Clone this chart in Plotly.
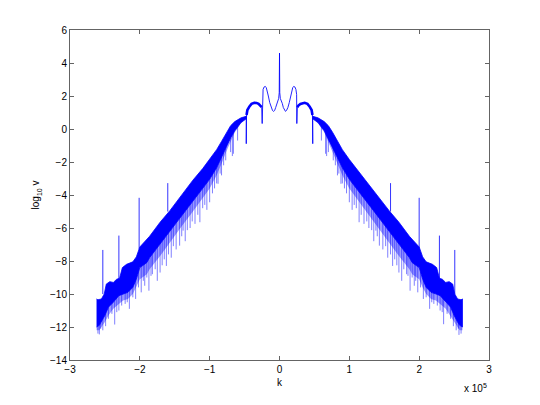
import numpy as np
import plotly.graph_objects as go

# k values are in units of 1e5 (axis shows "x 10^5")
K_SCALE = 1e5

# ---- dense band: upper / lower envelopes (left side) ----
upper_left_k = [-2.62, -2.60, -2.55, -2.51, -2.48, -2.43, -2.38, -2.33, -2.29, -2.25, -2.19, -2.10,
                -2.05, -2.02, -2.00, -1.86, -1.71, -1.57, -1.40, -1.24, -1.10, -1.00, -0.90, -0.83,
                -0.76, -0.70, -0.64, -0.55, -0.476]
upper_left_v = [-10.3, -10.35, -10.3, -10.0, -9.4, -9.25, -9.3, -9.1, -9.05, -8.4, -8.2, -8.05,
                -7.75, -7.4, -7.15, -6.5, -5.65, -4.95, -4.0, -3.1, -2.4, -1.85, -1.25, -0.75,
                -0.2, 0.2, 0.45, 0.68, 0.77]
lower_left_k = [-2.62, -2.58, -2.55, -2.50, -2.45, -2.38, -2.30, -2.24, -2.17, -2.10, -2.05, -2.00,
                -1.90, -1.86, -1.71, -1.57, -1.40, -1.24, -1.10, -1.00, -0.90, -0.83, -0.76, -0.70,
                -0.64, -0.55, -0.476]
lower_left_v = [-12.0, -11.9, -11.7, -11.3, -10.8, -10.5, -10.1, -10.0, -9.9, -9.6, -9.1, -8.4,
                -8.1, -7.8, -7.0, -6.2, -5.25, -4.35, -3.6, -3.05, -2.35, -1.75, -1.1, -0.55,
                -0.1, 0.4, 0.62]
# lower limit of the fuzzy (half-dense) zone under the solid band
fuzz_left_v = [-12.2, -12.2, -12.0, -11.7, -11.3, -10.9, -10.6, -10.4, -10.3, -10.0, -9.6, -9.1,
               -8.8, -8.5, -7.7, -6.9, -5.9, -5.0, -4.2, -3.6, -2.8, -2.1, -1.35, -0.75,
               -0.2, 0.35, 0.6]

# ---- dense band: right side ----
upper_right_k = [0.476, 0.55, 0.64, 0.70, 0.76, 0.83, 0.90, 1.00, 1.10, 1.24, 1.40, 1.57, 1.71,
                 1.86, 2.00, 2.02, 2.05, 2.10, 2.19, 2.25, 2.29, 2.33, 2.38, 2.43, 2.48, 2.51,
                 2.55, 2.60, 2.62]
upper_right_v = [0.77, 0.68, 0.45, 0.2, -0.2, -0.75, -1.25, -1.85, -2.4, -3.1, -4.0, -4.95, -5.65,
                 -6.5, -7.15, -7.4, -7.75, -8.05, -8.2, -8.4, -9.05, -9.1, -9.3, -9.25, -9.4, -10.0,
                 -10.3, -10.35, -10.3]
lower_right_k = [0.476, 0.55, 0.64, 0.70, 0.76, 0.83, 0.90, 1.00, 1.10, 1.24, 1.40, 1.57, 1.71,
                 1.86, 1.90, 2.00, 2.05, 2.10, 2.17, 2.24, 2.30, 2.38, 2.45, 2.50, 2.55, 2.58, 2.62]
lower_right_v = [0.62, 0.4, -0.1, -0.55, -1.1, -1.75, -2.35, -3.05, -3.6, -4.35, -5.25, -6.2, -7.0,
                 -7.8, -8.1, -8.4, -9.1, -9.6, -9.9, -10.0, -10.1, -10.5, -10.8, -11.3, -11.7,
                 -11.9, -12.0]
fuzz_right_v = [0.6, 0.35, -0.2, -0.75, -1.35, -2.1, -2.8, -3.6, -4.2, -5.0, -5.9, -6.9, -7.7,
                -8.5, -8.8, -9.1, -9.6, -10.0, -10.3, -10.4, -10.6, -10.9, -11.3, -11.7, -12.0,
                -12.2, -12.2]

# ---- downward streaks below the band: position and lowest value ----
dip_left_k = [-2.60, -2.58, -2.56, -2.53, -2.49, -2.45, -2.40, -2.36, -2.33, -2.30, -2.26, -2.21,
              -2.18, -2.15, -2.10, -2.06, -2.02, -1.98, -1.95, -1.93, -1.90, -1.87, -1.84, -1.82,
              -1.78, -1.75, -1.71, -1.68, -1.65, -1.62, -1.59, -1.55, -1.52, -1.48, -1.43, -1.40,
              -1.38, -1.35, -1.32, -1.28, -1.25, -1.21, -1.17, -1.14, -1.10, -1.07, -1.04, -1.00,
              -0.96, -0.93, -0.90, -0.88, -0.85, -0.83, -0.80, -0.77, -0.70, -0.675, -0.66, -0.60]
dip_left_bot = [-12.4, -12.45, -12.1, -12.2, -11.95, -11.5, -11.2, -11.85, -11.1, -11.0, -10.7, -10.6,
                -10.5, -10.9, -10.2, -10.3, -9.6, -9.9, -9.2, -9.5, -9.0, -9.8, -8.9, -8.8,
                -8.5, -9.2, -8.7, -8.26, -7.9, -8.3, -7.6, -7.8, -7.1, -7.3, -7.07, -6.5,
                -6.16, -6.8, -6.13, -6.0, -5.6, -5.75, -5.2, -5.65, -4.8, -4.6, -4.9, -4.44,
                -3.9, -3.6, -3.3, -3.32, -2.7, -2.81, -2.2, -1.9, -1.4, -1.64, -1.5, -0.7]
dip_right_k = [0.60, 0.66, 0.675, 0.70, 0.77, 0.80, 0.83, 0.85, 0.88, 0.90, 0.93, 0.96, 1.00,
               1.04, 1.07, 1.10, 1.14, 1.17, 1.21, 1.25, 1.28, 1.32, 1.35, 1.38, 1.40, 1.43, 1.48,
               1.52, 1.55, 1.59, 1.62, 1.65, 1.68, 1.71, 1.75, 1.78, 1.82, 1.84, 1.87, 1.90, 1.93,
               1.95, 1.98, 2.02, 2.06, 2.10, 2.15, 2.18, 2.21, 2.26, 2.30, 2.33, 2.35, 2.40, 2.45,
               2.49, 2.53, 2.56, 2.57, 2.60]
dip_right_bot = [-0.7, -1.5, -1.64, -1.4, -1.9, -2.2, -2.81, -2.7, -3.32, -3.3, -3.6, -3.9, -4.44,
                 -4.9, -4.6, -4.8, -5.65, -5.2, -5.75, -5.6, -6.0, -6.13, -6.8, -6.16, -6.5, -7.07,
                 -7.3, -7.1, -7.8, -7.6, -8.3, -7.9, -8.26, -8.7, -9.2, -8.5, -8.8, -8.9, -9.8, -9.0,
                 -9.5, -9.2, -9.9, -9.6, -10.3, -10.2, -10.9, -10.5, -10.6, -10.7, -11.0, -11.1,
                 -11.83, -11.2, -11.5, -11.95, -12.2, -12.1, -12.48, -12.4]

# ---- upward spikes (k, base, top) ----
spike_k = [-2.53, -2.30, -2.01, -1.60, 1.59, 2.00, 2.29, 2.51]
spike_base = [-10.0, -9.1, -7.3, -5.0, -5.0, -7.3, -9.1, -10.0]
spike_top = [-7.33, -6.46, -4.17, -3.28, -3.28, -4.17, -6.46, -7.33]

# ---- inner domes and central structure ----
drop_left_k = [-0.476, -0.476]
drop_left_v = [0.77, -0.89]
drop_right_k = [0.476, 0.476]
drop_right_v = [-0.89, 0.77]
dome_left_k = [-0.472, -0.46, -0.43, -0.40, -0.36, -0.33, -0.30, -0.27, -0.255]
dome_left_v = [0.85, 1.15, 1.37, 1.52, 1.59, 1.58, 1.52, 1.42, 1.32]
dome_right_k = [0.255, 0.27, 0.30, 0.33, 0.36, 0.40, 0.43, 0.46, 0.472]
dome_right_v = [1.32, 1.42, 1.52, 1.58, 1.59, 1.52, 1.37, 1.15, 0.85]
center_k = [-0.248, -0.245, -0.235, -0.22, -0.205, -0.19, -0.175, -0.16, -0.14, -0.12, -0.10,
            -0.085, -0.07, -0.055, -0.04, -0.025, -0.012, -0.004, 0.0, 0.004, 0.012, 0.025,
            0.04, 0.055, 0.07, 0.085, 0.10, 0.12, 0.14, 0.16, 0.175, 0.19, 0.205, 0.22, 0.235,
            0.245, 0.248]
center_v = [0.33, 2.1, 2.4, 2.55, 2.58, 2.52, 2.3, 2.0, 1.6, 1.3, 1.12, 1.07, 1.12, 1.3, 1.55,
            1.75, 1.85, 2.2, 4.6, 2.2, 1.85, 1.75, 1.55, 1.3, 1.12, 1.07, 1.12, 1.3, 1.6, 2.0,
            2.3, 2.52, 2.58, 2.55, 2.4, 2.1, 0.33]

x_tick_vals = [-3, -2, -1, 0, 1, 2, 3]
x_tick_text = ["\u22123", "\u22122", "\u22121", "0", "1", "2", "3"]
y_tick_vals = [-14, -12, -10, -8, -6, -4, -2, 0, 2, 4, 6]

BLUE = "rgb(0,0,255)"
fig = go.Figure()


def area(uk, uv, lk, lv, color, lw):
    xs = np.array(list(uk) + list(lk)[::-1]) * K_SCALE
    ys = list(uv) + list(lv)[::-1]
    fig.add_trace(go.Scatter(x=xs, y=ys, mode="lines", fill="toself", fillcolor=color,
                             line=dict(color=color, width=lw), hoverinfo="skip", showlegend=False))


# fuzzy half-dense zone first, then the solid band on top
area(lower_left_k, lower_left_v, lower_left_k, fuzz_left_v, "rgba(0,0,255,0.4)", 0)
area(lower_right_k, lower_right_v, lower_right_k, fuzz_right_v, "rgba(0,0,255,0.4)", 0)
area(upper_left_k, upper_left_v, lower_left_k, lower_left_v, BLUE, 0.8)
area(upper_right_k, upper_right_v, lower_right_k, lower_right_v, BLUE, 0.8)


def streaks(ks, bots, edge_k, edge_v):
    # each streak hangs from the band's lower edge down to its read value
    xs, ys = [], []
    for k, b in zip(ks, bots):
        top = float(np.interp(k, edge_k, edge_v)) + 0.3
        xs += [k * K_SCALE, k * K_SCALE, None]
        ys += [top, b, None]
    return xs, ys


lx, ly = streaks(dip_left_k, dip_left_bot, lower_left_k, lower_left_v)
rx, ry = streaks(dip_right_k, dip_right_bot, lower_right_k, lower_right_v)
fig.add_trace(go.Scatter(x=lx + rx, y=ly + ry, mode="lines",
                         line=dict(color="rgba(0,0,255,0.5)", width=1),
                         hoverinfo="skip", showlegend=False))

sx, sy = [], []
for k, b, t in zip(spike_k, spike_base, spike_top):
    sx += [k * K_SCALE, k * K_SCALE, None]
    sy += [b, t, None]
fig.add_trace(go.Scatter(x=sx, y=sy, mode="lines", line=dict(color="rgba(0,0,255,0.8)", width=1),
                         hoverinfo="skip", showlegend=False))

core_k = drop_left_k + dome_left_k + center_k + dome_right_k + drop_right_k
core_v = drop_left_v + dome_left_v + center_v + dome_right_v + drop_right_v
fig.add_trace(go.Scatter(x=np.array(core_k) * K_SCALE, y=core_v, mode="lines",
                         line=dict(color="rgba(0,0,255,0.85)", width=1),
                         hoverinfo="skip", showlegend=False))
fig.add_trace(go.Scatter(x=list(np.array(dome_left_k) * K_SCALE) + [None] + list(np.array(dome_right_k) * K_SCALE),
                         y=dome_left_v + [None] + dome_right_v, mode="lines",
                         line=dict(color=BLUE, width=2.6), hoverinfo="skip", showlegend=False))

AX = "rgb(100,100,100)"
FONT = dict(family="Liberation Sans, Arial, Helvetica", size=10, color="black")
common = dict(showgrid=False, zeroline=False, showline=True, linecolor=AX, linewidth=1,
              mirror="ticks", ticks="inside", ticklen=4, tickcolor=AX, tickfont=FONT)

# page body adds ~8px offset; margins compensate so plot area lands at x 70-489, y 30-360
fig.update_layout(
    width=540, height=405,
    margin=dict(l=62, r=59, t=22, b=53),
    paper_bgcolor="white", plot_bgcolor="white",
    xaxis=dict(range=[-3 * K_SCALE, 3 * K_SCALE], tickvals=[v * K_SCALE for v in x_tick_vals],
               ticktext=x_tick_text, **common),
    yaxis=dict(range=[-14, 6], tickvals=y_tick_vals, **common),
    annotations=[
        dict(text="k", xref="paper", yref="paper", x=0.5, y=-0.068, showarrow=False,
             font=FONT, xanchor="center", yanchor="middle"),
        dict(text="log<sub>10</sub> v", xref="paper", yref="paper", x=-0.08, y=0.5,
             textangle=-90, showarrow=False, font=FONT, xanchor="center", yanchor="middle"),
        dict(text="x 10<sup>5</sup>", xref="paper", yref="paper", x=1.0, y=-0.085,
             showarrow=False, font=FONT, xanchor="right", yanchor="middle"),
    ],
)

fig.write_html("out.html")
